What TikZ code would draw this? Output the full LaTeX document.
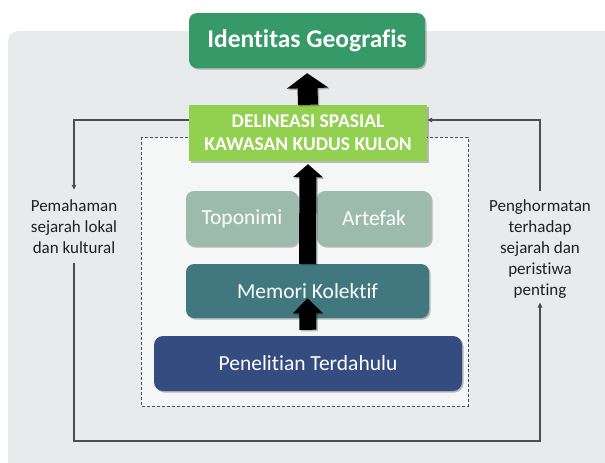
\documentclass[tikz,border=0pt]{standalone}
\usepackage{fontspec}
\setmainfont{Carlito}[Ligatures={NoCommon,NoDiscretionary,NoContextual}]
\usetikzlibrary{arrows.meta,shadows,calc}
\definecolor{panelc}{HTML}{E8EBEC}
\definecolor{dashfill}{HTML}{F5F6F6}
\definecolor{idc}{HTML}{359A67}
\definecolor{delc}{HTML}{92D050}
\definecolor{topc}{HTML}{9CBBAD}
\definecolor{memc}{HTML}{41787F}
\definecolor{penc}{HTML}{354C80}
\definecolor{linec}{HTML}{4D4D4D}
\definecolor{txtc}{HTML}{202020}
\tikzset{
  box/.style={rectangle, inner sep=0pt, text=white, align=center,
    drop shadow={shadow xshift=1.5pt, shadow yshift=-1.5pt, opacity=0.25, fill=black}},
  sidetext/.style={inner sep=0pt, align=center, text=txtc,
    font=\fontsize{17}{21}\selectfont},
  loopline/.style={draw=linec, line width=1.1pt},
  looptip/.style={-{Triangle[length=5pt,width=4.5pt]}},
  dashbox/.style={draw=linec, fill=dashfill, line width=1pt, dash pattern=on 3pt off 2pt},
  blockarrow/.style={line width=#1, black},
  arrowshade/.style={line width=#1, black, opacity=0.25, transform canvas={xshift=1.5pt,yshift=-1.5pt}},
  boxfont/.style={font=\fontsize{21.5}{25}\selectfont}
}
\begin{document}
\begin{tikzpicture}[x=1pt,y=-1pt]
\useasboundingbox (0,0) rectangle (605,463);
\clip (0,0) rectangle (605,463);
% background panel
\fill[panelc, rounded corners=10pt] (8,31) rectangle (650,520);
% dashed frame
\draw[dashbox] (141,137) rectangle (468,406);

% side labels
\node[sidetext] (ltxt) at (74,227) {Pemahaman\\sejarah lokal\\dan kultural};
\node[sidetext] (rtxt) at (540,249) {Penghormatan\\terhadap\\sejarah dan\\peristiwa\\penting};
\coordinate (bot) at (307,441);

% boxes
\node[box, fill=idc, rounded corners=8pt, minimum width=236pt, minimum height=55pt,
  font=\bfseries\fontsize{25.5}{30}\selectfont] (id) at (307,40.5) {Identitas Geografis};
\node[box, fill=delc, minimum width=238pt, minimum height=56pt,
  font=\bfseries\fontsize{19.5}{23}\selectfont] (deli) at (308,133) {DELINEASI SPASIAL\\KAWASAN KUDUS KULON};
\node[box, fill=topc, rounded corners=8pt, minimum width=112pt, minimum height=55pt,
  boxfont] (topo) at (242,218.5) {Toponimi};
\node[box, fill=topc, rounded corners=8pt, minimum width=114pt, minimum height=55pt,
  boxfont] (arte) at (374,218.5) {Artefak};
\node[box, fill=memc, rounded corners=8pt, minimum width=243pt, minimum height=54pt,
  boxfont] (mem) at (307.5,291) {Memori Kolektif};
\node[box, fill=penc, rounded corners=9pt, minimum width=308pt, minimum height=55pt,
  boxfont] (pen) at (308,363.5) {Penelitian Terdahulu};

% feedback loop
\draw[loopline, looptip] ([yshift=13pt]deli.west) -| ([yshift=10pt]ltxt.north);
\draw[loopline, looptip] ([yshift=-8.5pt]ltxt.south) |- (bot) -| ([yshift=-4pt]rtxt.south);
\draw[loopline, looptip] ([yshift=8.5pt]rtxt.north) |- ([yshift=13pt]deli.east);

% block arrows (shadow then arrow)
\draw[arrowshade=20pt, -{Triangle[width=41pt,length=15pt]}, shorten >=5pt] (deli.north) -- (id.south);
\draw[blockarrow=20pt, -{Triangle[width=41pt,length=15pt]}, shorten >=5pt] (deli.north) -- (id.south);
\draw[arrowshade=17pt, -{Triangle[width=29pt,length=13pt]}, shorten >=3pt] (mem.north) -- (deli.south);
\draw[blockarrow=17pt, -{Triangle[width=29pt,length=13pt]}, shorten >=3pt] (mem.north) -- (deli.south);
\draw[arrowshade=17pt, -{Triangle[width=29pt,length=15pt]}, shorten <=6pt] (pen.north) -- ([yshift=20pt]mem.south);
\draw[blockarrow=17pt, -{Triangle[width=29pt,length=15pt]}, shorten <=6pt] (pen.north) -- ([yshift=20pt]mem.south);
\end{tikzpicture}
\end{document}
